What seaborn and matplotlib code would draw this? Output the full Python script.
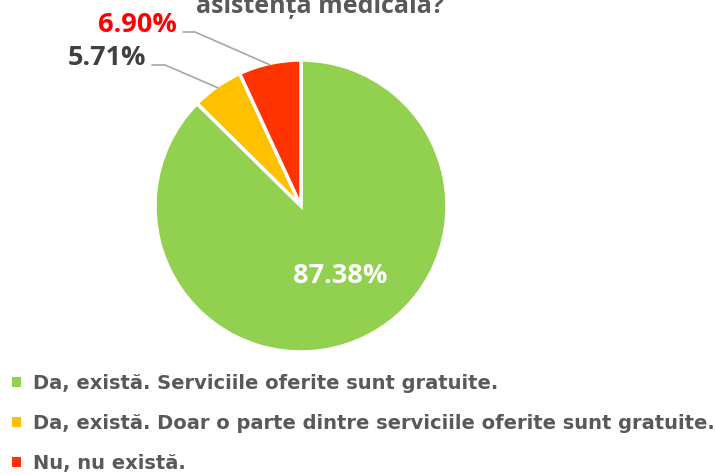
import numpy as np
import matplotlib
matplotlib.use("Agg")
import matplotlib.pyplot as plt
import seaborn as sns

sns.set_theme(style="white")
plt.rcParams['font.family'] = ['Open Sans', 'DejaVu Sans']

# data
categories = ["Da, există. Serviciile oferite sunt gratuite.",
              "Da, există. Doar o parte dintre serviciile oferite sunt gratuite.",
              "Nu, nu există."]
values = [87.38, 5.71, 6.90]
colors = ["#92D050", "#FFC000", "#FF3300"]
label_colors = ["white", "#404040", "#FF0000"]
title_tail = "asistența medicală?"

W, H = 715, 474
fig = plt.figure(figsize=(W / 100, H / 100), dpi=100)

# pie centre / radius in pixels
cx, cy, R = 301, 206, 146
ax = fig.add_axes([(cx - R) / W, 1 - (cy + R) / H, 2 * R / W, 2 * R / H])

wedges, _ = ax.pie(values, colors=colors, startangle=90, counterclock=False,
                   radius=1, wedgeprops=dict(edgecolor="white", linewidth=2.5))
ax.set_xlim(-1, 1)
ax.set_ylim(-1, 1)
ax.set_aspect("equal")
ax.axis("off")

def px(x, y):
    return (x - cx) / R, (cy - y) / R

# inside label for the big slice
w = wedges[0]
mid = np.deg2rad((w.theta1 + w.theta2) / 2)
ax.text(0.52 * np.cos(mid) + 0.07, 0.52 * np.sin(mid), f"{values[0]:.2f}%",
        ha="center", va="center", fontsize=19.5, fontweight="bold", color=label_colors[0])

# outside labels with leader lines (text positions in pixels)
outside = {1: ((165, 65), (152, 65)), 2: ((195, 32), (183, 32))}
for i, (kink, end) in outside.items():
    w = wedges[i]
    mid = np.deg2rad((w.theta1 + w.theta2) / 2)
    p0 = (0.99 * np.cos(mid), 0.99 * np.sin(mid))
    k = px(*kink)
    e = px(*end)
    ax.plot([p0[0], k[0], e[0]], [p0[1], k[1], e[1]], color="#A6A6A6",
            lw=1.2, clip_on=False)
    ax.text(e[0] - 0.04, e[1] - 0.003, f"{values[i]:.2f}%", ha="right", va="baseline",
            fontsize=19.5, fontweight="bold", color=label_colors[i], clip_on=False)

# title (only the last line is visible)
fig.text(320 / W, 1 - 13 / H, title_tail, ha="center", va="baseline",
         fontsize=18, fontweight="bold", color="#595959")

leg = ax.legend(wedges, categories, loc="upper left",
                bbox_to_anchor=(6.5 / W, 1 - 368 / H), bbox_transform=fig.transFigure,
                frameon=False, handlelength=0.47, handleheight=0.47,
                handletextpad=0.58, labelspacing=1.08, borderaxespad=0,
                borderpad=0.3,
                prop=dict(family="DejaVu Sans", size=14, weight="bold"))
for t in leg.get_texts():
    t.set_color("#595959")
for h in leg.legend_handles:
    h.set_edgecolor("none")

fig.savefig("out.png", dpi=100)
